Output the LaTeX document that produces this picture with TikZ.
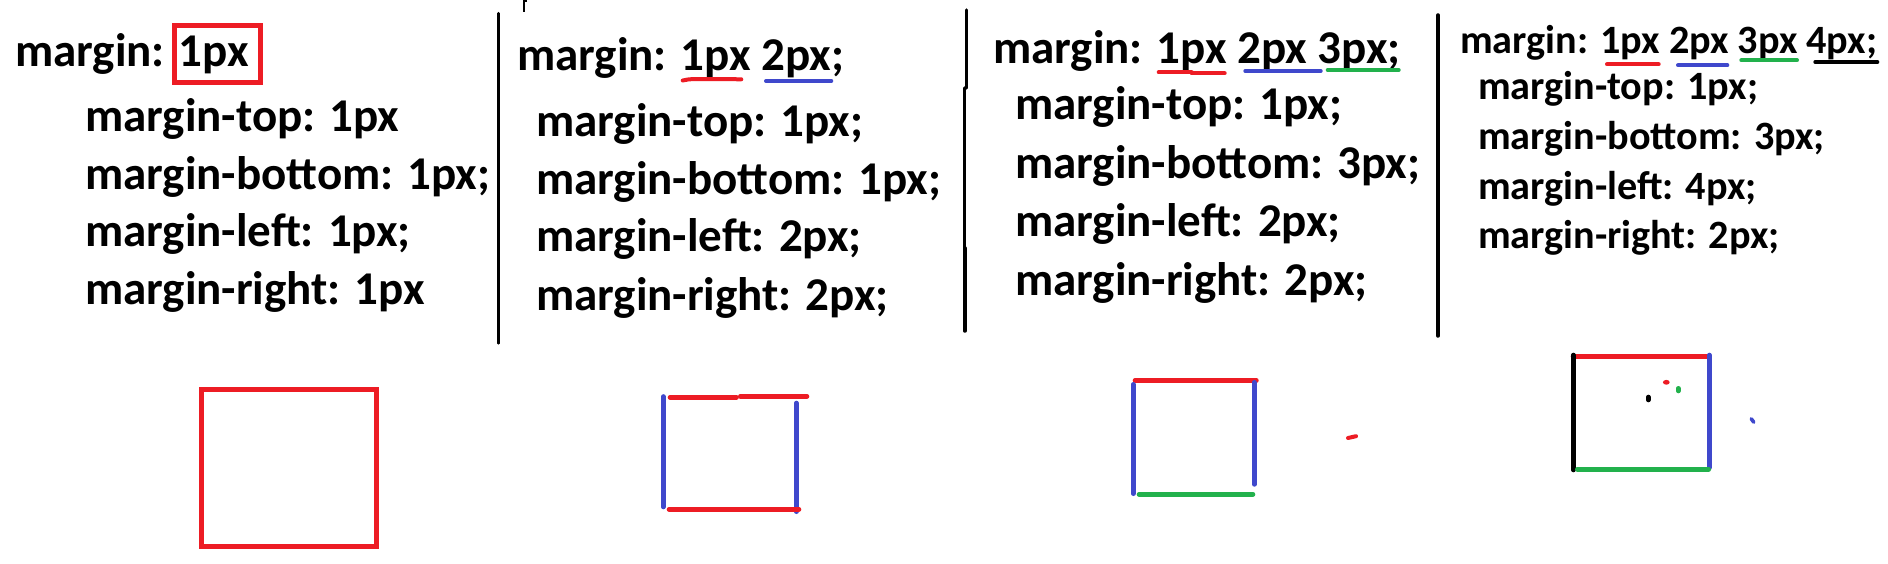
\documentclass[tikz,border=0pt]{standalone}
\usepackage{fontspec}
\setmainfont{Carlito}
\definecolor{pred}{HTML}{ED1C24}
\definecolor{pblue}{HTML}{3F48CC}
\definecolor{pgreen}{HTML}{22B14C}
\begin{document}
\begin{tikzpicture}[x=1pt,y=-1pt,
  txt/.style={anchor=base west, inner sep=0pt, font=\fontsize{47}{57}\selectfont\bfseries},
  txts/.style={anchor=base west, inner sep=0pt, font=\fontsize{40.2}{49}\selectfont\bfseries},
  ul/.style={line width=4pt, line cap=round},
  edge/.style={line width=4.6pt, line cap=round},
  divider/.style={line width=3.5pt, line cap=round}]
\useasboundingbox[fill=white] (0,0) rectangle (1888,564);
% ---------- panel 1
\node[txt] (h1) at (15,66.7) {margin: 1px};
\node[txt] (a1) at (85,131.7) {margin-top: 1px};
\node[txt] (b1) at (85,189.3) {margin-bottom: 1px;};
\node[txt] (c1) at (85,246.7) {margin-left: 1px;};
\node[txt] (d1) at (85,304) {margin-right: 1px};
\draw[pred, line width=4.7pt] (174.3,25.3) rectangle (260.7,82.3);
\draw[pred, line width=5pt] (201.5,389.5) rectangle (376.5,546.5);
% divider 1
\draw[divider, line width=2.8pt] (498.3,13.3) -- (498.3,343.3);
\draw[line width=2pt] (523.5,0) -- (523.5,12.5);
\draw[line width=2pt] (523.5,1) -- (527,1);
% ---------- panel 2
\node[txt] (h2) at (517,71) {margin: 1px 2px;};
\node[txt] (a2) at (536,136.7) {margin-top: 1px;};
\node[txt] (b2) at (536,194.3) {margin-bottom: 1px;};
\node[txt] (c2) at (536,251.7) {margin-left: 2px;};
\node[txt] (d2) at (536,310) {margin-right: 2px;};
\draw[ul, pred] (682.7,80.5) .. controls (690,78.8) .. (741.3,79.3);
\draw[ul, pblue] (766,81) -- (831.3,81);
\draw[edge, pblue] (663.3,396.5) -- (663.3,507);
\draw[edge, pblue] (796.3,403) -- (796.3,511.7);
\draw[edge, pred] (670,397.3) -- (736.5,397.3);
\draw[edge, pred] (740.3,396.3) -- (807,396.3);
\draw[edge, pred] (669,509.3) -- (799,509.3);
% divider 2
\draw[divider] (966.3,10) -- (966.3,88);
\draw[divider] (964.5,88) -- (964.5,248);
\draw[divider] (964.8,248) -- (964.8,331);
% ---------- panel 3
\node[txt] (h3) at (993,63.3) {margin: 1px 2px 3px;};
\node[txt] (a3) at (1015,120) {margin-top: 1px;};
\node[txt] (b3) at (1015,178.3) {margin-bottom: 3px;};
\node[txt] (c3) at (1015,236.7) {margin-left: 2px;};
\node[txt] (d3) at (1015,295) {margin-right: 2px;};
\draw[ul, pred] (1158.7,72.3) -- (1191.7,72.3);
\draw[ul, pred] (1191.7,73.3) -- (1224.7,73.3);
\draw[ul, pblue] (1245.3,71) -- (1320.7,71);
\draw[ul, pgreen] (1327.7,70) -- (1398.7,70);
\draw[edge, pred] (1135,380.3) -- (1256.4,380.3);
\draw[edge, pblue] (1133.3,384.3) -- (1133.3,493.7);
\draw[edge, pblue] (1254.3,382.3) -- (1254.3,484.4);
\draw[edge, pgreen] (1139,494.3) -- (1253,494.3);
\draw[ul, pred] (1348,438) -- (1356,436.2);
% divider 3
\draw[divider] (1438,15) -- (1438,336);
% ---------- panel 4
\node[txts] (h4) at (1460,53.3) {margin: 1px 2px 3px 4px;};
\node[txts] (a4) at (1478,100) {margin-top: 1px;};
\node[txts] (b4) at (1478,150) {margin-bottom: 3px;};
\node[txts] (c4) at (1478,199.3) {margin-left: 4px;};
\node[txts] (d4) at (1478,248.3) {margin-right: 2px;};
\draw[ul, pred] (1607,64.3) -- (1658.7,64.3);
\draw[ul, pblue] (1678,65.3) -- (1727.3,65.3);
\draw[ul, pgreen] (1741.3,60.3) -- (1797,60.3);
\draw[ul, black] (1815.3,62) -- (1877.3,62);
\draw[edge, pred] (1573,356.3) -- (1706.7,356.3);
\draw[edge, black] (1573.3,355) -- (1573.3,470);
\draw[edge, pblue] (1709.3,355) -- (1709.3,467.7);
\draw[edge, pgreen] (1577.3,469.3) -- (1708.7,469.3);
\fill[pred] (1666.3,382.3) ellipse (3.4pt and 2.4pt);
\draw[ul, pgreen, line width=4.6pt] (1678.3,388.3) -- (1678.3,391);
\draw[ul, black, line width=4.6pt] (1648.3,397) -- (1648.3,400);
\draw[ul, pblue, line width=3.6pt] (1751.2,418.8) -- (1753.8,422.2);
\end{tikzpicture}
\end{document}
